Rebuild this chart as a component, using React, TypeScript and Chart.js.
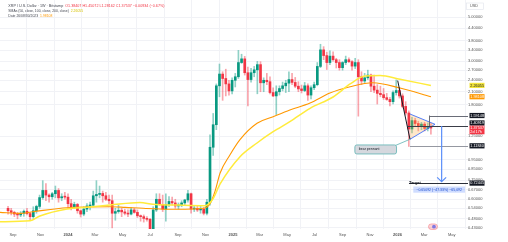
import React, { useEffect, useRef } from 'react';
import { Chart, registerables } from 'chart.js';
Chart.register(...registerables);

// ---- data (weekly XRP/USD candles, week index relative to Mon 2024-01-01) ----
const FIRST_WEEK = -19; // 2023-08-21

const OPEN = [
  0.540, 0.525, 0.515, 0.505, 0.500, 0.510, 0.522, 0.508, 0.490, 0.525,
  0.552, 0.612, 0.665, 0.630, 0.618, 0.640, 0.665, 0.610, 0.618, 0.615,
  0.570, 0.550, 0.565, 0.525, 0.505, 0.535, 0.555, 0.560, 0.625, 0.635,
  0.642, 0.625, 0.600, 0.590, 0.510, 0.520, 0.528, 0.518, 0.510, 0.505,
  0.530, 0.515, 0.495, 0.490, 0.480, 0.475, 0.425, 0.530, 0.600, 0.565,
  0.535, 0.565, 0.585, 0.575, 0.555, 0.560, 0.575, 0.595, 0.640, 0.535,
  0.540, 0.530, 0.535, 0.510, 0.580, 1.100, 1.430, 2.250, 2.580, 2.450,
  2.300, 2.120, 2.400, 2.500, 2.950, 3.080, 2.620, 2.420, 2.620, 2.710,
  2.880, 2.330, 2.400, 2.360, 2.080, 2.000, 2.100, 2.180, 2.250, 2.320,
  2.420, 2.340, 2.240, 2.170, 2.130, 2.250, 2.020, 2.200, 2.280, 2.820,
  3.420, 3.200, 2.950, 3.180, 3.050, 2.950, 2.780, 2.950, 3.050, 2.980,
  2.830, 2.950, 2.500, 2.380, 2.470, 2.550, 2.240, 2.140, 2.060, 2.030,
  1.960, 1.920, 1.870, 2.080, 2.130, 2.000, 1.770, 1.640, 1.360, 1.500,
  1.450, 1.400, 1.440, 1.370, 1.38407,
];
const HIGH = [
  0.552, 0.540, 0.522, 0.515, 0.520, 0.530, 0.540, 0.515, 0.550, 0.560,
  0.630, 0.745, 0.720, 0.640, 0.650, 0.700, 0.680, 0.640, 0.650, 0.640,
  0.600, 0.580, 0.572, 0.530, 0.550, 0.570, 0.580, 0.660, 0.745, 0.700,
  0.660, 0.650, 0.630, 0.630, 0.540, 0.560, 0.540, 0.535, 0.530, 0.545,
  0.540, 0.530, 0.500, 0.500, 0.490, 0.480, 0.550, 0.640, 0.640, 0.630,
  0.640, 0.620, 0.615, 0.600, 0.575, 0.590, 0.600, 0.665, 0.645, 0.555,
  0.555, 0.555, 0.545, 0.600, 1.270, 1.630, 2.300, 2.900, 2.650, 2.730,
  2.400, 2.470, 2.600, 3.400, 3.250, 3.170, 2.800, 2.760, 2.820, 2.990,
  2.980, 2.470, 2.600, 2.500, 2.200, 2.250, 2.250, 2.350, 2.400, 2.650,
  2.600, 2.480, 2.360, 2.270, 2.340, 2.300, 2.250, 2.350, 2.950, 3.650,
  3.550, 3.330, 3.380, 3.340, 3.100, 3.050, 2.980, 3.180, 3.120, 3.020,
  3.100, 3.050, 2.650, 2.600, 2.700, 2.580, 2.550, 2.280, 2.240, 2.180,
  2.060, 1.970, 2.120, 2.410, 2.200, 2.050, 1.870, 1.680, 1.560, 1.540,
  1.490, 1.470, 1.470, 1.460, 1.45072,
];
const LOW = [
  0.505, 0.500, 0.490, 0.478, 0.490, 0.492, 0.500, 0.470, 0.480, 0.510,
  0.540, 0.600, 0.590, 0.580, 0.600, 0.610, 0.580, 0.590, 0.600, 0.540,
  0.530, 0.540, 0.510, 0.488, 0.495, 0.520, 0.530, 0.550, 0.580, 0.610,
  0.580, 0.590, 0.570, 0.430, 0.470, 0.510, 0.490, 0.500, 0.490, 0.500,
  0.510, 0.485, 0.465, 0.460, 0.465, 0.400, 0.420, 0.520, 0.560, 0.520,
  0.465, 0.550, 0.560, 0.540, 0.535, 0.550, 0.560, 0.580, 0.510, 0.520,
  0.520, 0.510, 0.500, 0.500, 0.560, 1.000, 1.350, 1.980, 1.900, 2.000,
  2.020, 2.050, 2.220, 2.450, 2.920, 2.550, 1.780, 2.350, 2.500, 2.050,
  2.100, 2.100, 2.280, 2.050, 1.980, 1.610, 2.020, 2.120, 2.080, 2.100,
  2.280, 2.200, 2.100, 2.070, 2.100, 1.900, 1.930, 2.150, 2.250, 2.780,
  3.050, 2.720, 2.880, 3.000, 2.770, 2.700, 2.700, 2.880, 2.950, 2.700,
  2.750, 1.580, 2.280, 2.330, 2.420, 2.100, 2.080, 1.820, 1.980, 1.920,
  1.900, 1.780, 1.820, 2.020, 1.950, 1.740, 1.600, 1.110, 1.300, 1.400,
  1.330, 1.350, 1.330, 1.330, 1.28162,
];
const CLOSE = [
  0.525, 0.515, 0.505, 0.500, 0.510, 0.522, 0.508, 0.490, 0.525, 0.552,
  0.612, 0.665, 0.630, 0.618, 0.640, 0.665, 0.610, 0.618, 0.615, 0.570,
  0.550, 0.565, 0.525, 0.505, 0.535, 0.555, 0.560, 0.625, 0.635, 0.642,
  0.625, 0.600, 0.590, 0.510, 0.520, 0.528, 0.518, 0.510, 0.505, 0.530,
  0.515, 0.495, 0.490, 0.480, 0.475, 0.425, 0.530, 0.600, 0.565, 0.535,
  0.565, 0.585, 0.575, 0.555, 0.560, 0.575, 0.595, 0.640, 0.535, 0.540,
  0.530, 0.535, 0.510, 0.580, 1.100, 1.430, 2.250, 2.580, 2.450, 2.300,
  2.120, 2.400, 2.500, 2.950, 3.080, 2.620, 2.420, 2.620, 2.710, 2.880,
  2.330, 2.400, 2.360, 2.080, 2.000, 2.100, 2.180, 2.250, 2.320, 2.420,
  2.340, 2.240, 2.170, 2.130, 2.250, 2.020, 2.200, 2.280, 2.820, 3.420,
  3.200, 2.950, 3.180, 3.050, 2.950, 2.780, 2.950, 3.050, 2.980, 2.830,
  2.950, 2.500, 2.380, 2.470, 2.550, 2.240, 2.140, 2.060, 2.030, 1.960,
  1.920, 1.870, 2.080, 2.130, 2.000, 1.770, 1.640, 1.360, 1.500, 1.450,
  1.400, 1.440, 1.370, 1.38471, 1.37537,
];

// moving averages (sampled along the line, week index -> price)
const SLOW_MA_WEEKS = [-21.55, -12.0, -8.9, -0.3, 6.0, 13.3, 22.8, 26.9, 34.5, 43.4, 45.9, 48.2, 54.5, 59.9, 65.0, 70.3, 76.7, 84.0, 89.4, 94.1, 98.9, 105.2, 115.0];
const SLOW_MA = [0.462, 0.467, 0.494, 0.536, 0.547, 0.561, 0.578, 0.566, 0.561, 0.557, 0.602, 0.717, 0.985, 1.156, 1.318, 1.481, 1.731, 1.975, 2.298, 2.522, 2.537, 2.427, 2.26055];
const FAST_MA_WEEKS = [-21.55, -15.2, -11.1, -0.3, 13.3, 18.1, 23.8, 34.5, 42.8, 45.0, 46.6, 48.2, 51.3, 54.5, 59.9, 65.0, 70.3, 76.7, 83.0, 89.4, 96.6, 105.2, 115.0];
const FAST_MA = [0.515, 0.509, 0.519, 0.544, 0.550, 0.546, 0.540, 0.534, 0.540, 0.570, 0.66, 0.815, 1.005, 1.202, 1.454, 1.570, 1.697, 1.842, 2.069, 2.226, 2.333, 2.193, 1.98108];

// axes
const MONTH_TICKS = ['2023-09-01', '2023-11-01', '2024-01-01', '2024-03-01', '2024-05-01', '2024-07-01', '2024-09-01', '2024-11-01', '2025-01-01', '2025-03-01', '2025-05-01', '2025-07-01', '2025-09-01', '2025-11-01', '2026-01-01', '2026-03-01', '2026-05-01'];
const MONTH_LABELS = ['Sep', 'Nov', '2024', 'Mar', 'May', 'Jul', 'Sep', 'Nov', '2025', 'Mar', 'May', 'Jul', 'Sep', 'Nov', '2026', 'Mar', 'May'];
const PRICE_TICKS = [5.0, 4.4, 3.8, 3.4, 3.0, 2.7, 2.4, 2.1, 1.8, 1.25, 0.95, 0.85, 0.75, 0.67, 0.6, 0.54, 0.48, 0.43];

// drawings (week index, price)
const POLE = [[104.47, 2.39], [108.37, 1.207]];
const PENNANT = [[108.37, 1.62], [116.29, 1.437], [108.37, 1.207]];
const LEVEL_TOP = 1.59148, LEVEL_MID = 1.40919, LEVEL_LOW = 1.1184;
const LEVEL_TOP_FROM = 114.4, LEVEL_MID_FROM = 107.7, LEVEL_LOW_FROM = 108.37;
const TARGET = 0.72445, TARGET_FROM = 108.05, ARROW_WEEK = 118.4;
const CALLOUT = { left: 90.9, right: 104.1, top: 1.13, bottom: 1.017, text: 'bear pennant' };
const EVENT_ICON = [115.65, 0.436];

const TITLE = 'XRP / U.S. Dollar · 1W · Bitstamp';
const MA1_TITLE = 'SMAs (50, close, 100, close, 200, close)';
const MA2_TITLE = 'Date 26/08/30/2023';
const COUNTDOWN = '2d 17h';

const X_MIN = -21.55, X_MAX = 126.75, Y_MIN = 0.4244, Y_MAX = 6.113;
const FONT = '"Liberation Sans", Arial, sans-serif';
const GREEN = '#089981', RED = '#f23645';

const weeksFrom = (d: string) => (Date.parse(d) - Date.parse('2024-01-01')) / (7 * 86400000);
const font = (s: number, b = false) => `${b ? 'bold ' : ''}${s}px ${FONT}`;

const overlay = {
  id: 'overlay',
  afterDatasetsDraw(chart: any) {
    const { ctx, chartArea: ca } = chart;
    const X = (w: number) => chart.scales.x.getPixelForValue(w);
    const Y = (p: number) => chart.scales.y.getPixelForValue(p);
    ctx.save();
    ctx.beginPath();
    ctx.rect(ca.left, ca.top, ca.right - ca.left, ca.bottom - ca.top);
    ctx.clip();
    // pennant
    ctx.beginPath();
    PENNANT.forEach(([w, p], i) => (i ? ctx.lineTo(X(w), Y(p)) : ctx.moveTo(X(w), Y(p))));
    ctx.closePath();
    ctx.fillStyle = 'rgba(255,170,60,0.28)';
    ctx.fill();
    ctx.strokeStyle = '#2962ff';
    ctx.lineWidth = 0.8;
    ctx.beginPath();
    PENNANT.forEach(([w, p], i) => (i ? ctx.lineTo(X(w), Y(p)) : ctx.moveTo(X(w), Y(p))));
    ctx.stroke();
    // pole
    ctx.strokeStyle = '#131722';
    ctx.lineWidth = 1;
    ctx.beginPath();
    ctx.moveTo(X(POLE[0][0]), Y(POLE[0][1]));
    ctx.lineTo(X(POLE[1][0]), Y(POLE[1][1]));
    ctx.stroke();
    // level lines
    const hline = (p: number, from: number, color: string) => {
      ctx.strokeStyle = color;
      ctx.beginPath();
      ctx.moveTo(X(from), Math.round(Y(p)) + 0.5);
      ctx.lineTo(ca.right, Math.round(Y(p)) + 0.5);
      ctx.stroke();
    };
    ctx.lineWidth = 1;
    hline(LEVEL_TOP, LEVEL_TOP_FROM, '#6a6d78');
    hline(LEVEL_MID, LEVEL_MID_FROM, '#3a3d48');
    hline(LEVEL_LOW, LEVEL_LOW_FROM, '#9598a1');
    ctx.strokeStyle = '#6a6d78';
    ctx.beginPath();
    ctx.moveTo(Math.round(X(LEVEL_TOP_FROM)) + 0.5, Y(LEVEL_TOP));
    ctx.lineTo(Math.round(X(LEVEL_TOP_FROM)) + 0.5, Y(LEVEL_MID));
    ctx.stroke();
    hline(TARGET, TARGET_FROM, '#2a2e39');
    // arrow
    const ax = X(ARROW_WEEK), ay0 = Y(LEVEL_MID), ay1 = Y(TARGET) - 1.5;
    ctx.strokeStyle = '#5b8ff9';
    ctx.lineWidth = 1.2;
    ctx.beginPath();
    ctx.moveTo(ax, ay0);
    ctx.lineTo(ax, ay1);
    ctx.moveTo(ax - 4.5, ay1 - 4.2);
    ctx.lineTo(ax, ay1);
    ctx.lineTo(ax + 4.5, ay1 - 4.2);
    ctx.stroke();
    ctx.restore();
  },
  afterDraw(chart: any) {
    const { ctx, chartArea: ca } = chart;
    const X = (w: number) => chart.scales.x.getPixelForValue(w);
    const Y = (p: number) => chart.scales.y.getPixelForValue(p);
    ctx.save();
    ctx.textBaseline = 'middle';
    ctx.textAlign = 'left';

    // header legend
    const n = CLOSE.length - 1;
    const chg = CLOSE[n] - CLOSE[n - 1];
    const pct = (chg / CLOSE[n - 1]) * 100;
    const sgn = (v: number) => (v < 0 ? '\u2212' : '+');
    const ohlc = `O${OPEN[n].toFixed(5)} H${HIGH[n].toFixed(5)} L${LOW[n].toFixed(5)} C${CLOSE[n].toFixed(5)} ${sgn(chg)}${Math.abs(chg).toFixed(5)} (${sgn(pct)}${Math.abs(pct).toFixed(2)}%)`;
    ctx.font = font(3.7);
    const x0 = 8.3;
    ctx.fillStyle = '#434651';
    ctx.fillText(TITLE, x0, 5.7);
    ctx.fillStyle = RED;
    ctx.fillText(ohlc, x0 + ctx.measureText(TITLE).width + 2, 5.7);
    ctx.fillStyle = '#434651';
    ctx.font = font(3.4);
    ctx.fillText(MA1_TITLE, x0, 11);
    ctx.fillStyle = '#d6c200';
    ctx.fillText(SLOW_MA[SLOW_MA.length - 1].toFixed(5), x0 + ctx.measureText(MA1_TITLE).width + 2, 11);
    ctx.fillStyle = '#434651';
    ctx.fillText(MA2_TITLE, x0, 16);
    ctx.fillStyle = '#ff9800';
    ctx.fillText(FAST_MA[FAST_MA.length - 1].toFixed(5), x0 + ctx.measureText(MA2_TITLE).width + 2, 16);

    // callout
    const cl = X(CALLOUT.left), cr = X(CALLOUT.right), ct = Y(CALLOUT.top), cb = Y(CALLOUT.bottom);
    ctx.strokeStyle = '#5fb3b3';
    ctx.lineWidth = 0.8;
    ctx.beginPath();
    ctx.moveTo(cr - 1, ct + 0.5);
    ctx.lineTo(X(PENNANT[2][0]), Y(PENNANT[2][1]));
    ctx.stroke();
    ctx.beginPath();
    (ctx as any).roundRect(cl, ct, cr - cl, cb - ct, 2);
    ctx.fillStyle = '#d5d8de';
    ctx.fill();
    ctx.stroke();
    ctx.fillStyle = '#131722';
    ctx.font = font(3.5);
    ctx.fillText(CALLOUT.text, cl + 4, (ct + cb) / 2);

    // target label and measurement box
    const ty = Y(TARGET);
    ctx.font = font(4, true);
    ctx.fillStyle = '#131722';
    ctx.fillText('Target', X(TARGET_FROM), ty - 0.2);
    const last = CLOSE[n];
    const d = TARGET - last;
    const dp = (d / last) * 100;
    const ticks = Math.round(Math.abs(d) * 100000).toLocaleString('en-US');
    const mtxt = `\u2212${Math.abs(d).toFixed(5)} (\u2212${Math.abs(dp).toFixed(2)}%) \u2212${ticks}`;
    const bx0 = 413.3, bw = ca.right - 3 - bx0;
    ctx.fillStyle = 'rgba(41,98,255,0.22)';
    ctx.fillRect(bx0, ty + 3.4, bw, 6.2);
    ctx.fillStyle = '#1f4fd1';
    ctx.font = font(3.5);
    ctx.textAlign = 'center';
    ctx.fillText(mtxt, bx0 + bw / 2, ty + 6.6);
    ctx.textAlign = 'left';

    // event icon
    const ex = X(EVENT_ICON[0]), ey = Y(EVENT_ICON[1]);
    ctx.beginPath();
    (ctx as any).roundRect(ex - 4.5, ey - 2.8, 9, 5.6, 2.8);
    ctx.fillStyle = 'rgba(242,54,69,0.22)';
    ctx.fill();
    ctx.strokeStyle = 'rgba(242,54,69,0.55)';
    ctx.lineWidth = 0.6;
    ctx.stroke();
    ctx.beginPath();
    ctx.arc(ex + 1, ey, 1.9, 0, Math.PI * 2);
    ctx.fillStyle = 'rgba(90,90,230,0.75)';
    ctx.fill();

    // price axis: USD label + badges
    const R = ca.right;
    ctx.strokeStyle = '#e0e3eb';
    ctx.lineWidth = 0.6;
    ctx.strokeRect(R - 1.5, 3, 17, 6.5);
    ctx.fillStyle = '#555';
    ctx.font = font(3.8);
    ctx.fillText('USD', R + 2, 6.3);
    const badge = (yc: number, text: string, bg: string, fg: string) => {
      ctx.fillStyle = bg;
      ctx.fillRect(R + 1.5, yc - 2.6, 15, 5.2);
      ctx.fillStyle = fg;
      ctx.font = font(3.8);
      ctx.fillText(text, R + 2.3, yc + 0.2);
    };
    badge(Y(SLOW_MA[SLOW_MA.length - 1]), SLOW_MA[SLOW_MA.length - 1].toFixed(5), '#f5e63a', '#131722');
    badge(Y(FAST_MA[FAST_MA.length - 1]), FAST_MA[FAST_MA.length - 1].toFixed(5), '#ff9800', '#ffffff');
    badge(Y(LEVEL_TOP), LEVEL_TOP.toFixed(5), '#131722', '#ffffff');
    const redTop = Y(last) - 2.4;
    badge(redTop - 2.7, LEVEL_MID.toFixed(5), '#131722', '#ffffff');
    ctx.fillStyle = RED;
    ctx.fillRect(R + 1.5, redTop, 15, 8.6);
    ctx.fillStyle = '#ffffff';
    ctx.font = font(3.8);
    ctx.fillText(last.toFixed(5), R + 2.3, redTop + 2.4);
    ctx.fillText(COUNTDOWN, R + 2.3, redTop + 6.3);
    badge(Y(LEVEL_LOW), LEVEL_LOW.toFixed(5), '#131722', '#ffffff');
    badge(ty, TARGET.toFixed(5), '#131722', '#ffffff');
    ctx.restore();
  },
};

export default function App() {
  const ref = useRef<HTMLCanvasElement>(null);
  useEffect(() => {
    Chart.defaults.font.family = FONT;
    const weeks = OPEN.map((_, i) => FIRST_WEEK + i);
    const up = (i: number) => CLOSE[i] >= OPEN[i];
    const bodies = weeks.map((w, i) => ({ x: w, y: [OPEN[i], CLOSE[i]] }));
    const wicks = weeks.map((w, i) => ({ x: w, y: [LOW[i], HIGH[i]] }));
    const chart = new Chart(ref.current as HTMLCanvasElement, {
      type: 'bar',
      data: {
        datasets: [
          {
            type: 'line',
            data: SLOW_MA_WEEKS.map((w, i) => ({ x: w, y: SLOW_MA[i] })),
            borderColor: '#ffeb3b',
            borderWidth: 1.5,
            pointRadius: 0,
            cubicInterpolationMode: 'monotone',
            order: 0,
          } as any,
          {
            type: 'line',
            data: FAST_MA_WEEKS.map((w, i) => ({ x: w, y: FAST_MA[i] })),
            borderColor: '#ff9800',
            borderWidth: 1.1,
            pointRadius: 0,
            cubicInterpolationMode: 'monotone',
            order: 0,
          } as any,
          {
            type: 'bar',
            data: wicks,
            backgroundColor: (c: any) => (up(c.dataIndex) ? 'rgba(8,153,129,0.45)' : 'rgba(242,54,69,0.45)'),
            barThickness: 1,
            grouped: false,
            order: 2,
          } as any,
          {
            type: 'bar',
            data: bodies,
            backgroundColor: (c: any) => (up(c.dataIndex) ? GREEN : RED),
            barThickness: 2,
            minBarLength: 1,
            grouped: false,
            order: 1,
          } as any,
        ],
      },
      options: {
        responsive: false,
        animation: false,
        devicePixelRatio: 1,
        layout: { padding: 0 },
        events: [],
        plugins: { legend: { display: false }, tooltip: { enabled: false } },
        scales: {
          x: {
            type: 'linear',
            min: X_MIN,
            max: X_MAX,
            offset: false,
            afterBuildTicks: (s: any) => {
              s.ticks = MONTH_TICKS.map((d) => ({ value: weeksFrom(d) }));
            },
            afterFit: (s: any) => {
              s.height = 13;
              s.paddingLeft = 0;
              s.paddingRight = 0;
            },
            ticks: {
              autoSkip: false,
              maxRotation: 0,
              minRotation: 0,
              padding: 3,
              color: '#555',
              font: (c: any) => ({ size: 4, weight: /^\d{4}$/.test(MONTH_LABELS[c.index] || '') ? 'bold' : 'normal' }),
              callback: (_v: any, i: number) => MONTH_LABELS[i],
            },
            grid: { color: '#f1f2f6', drawTicks: false },
            border: { display: false },
          },
          y: {
            type: 'logarithmic',
            position: 'right',
            min: Y_MIN,
            max: Y_MAX,
            afterBuildTicks: (s: any) => {
              s.ticks = PRICE_TICKS.map((v) => ({ value: v }));
            },
            afterFit: (s: any) => {
              s.width = 40;
              s.paddingTop = 0;
              s.paddingBottom = 0;
            },
            ticks: {
              padding: 0,
              color: '#555',
              font: { size: 4 },
              callback: (v: any) => Number(v).toFixed(5),
            },
            grid: { color: '#f1f2f6', drawTicks: false },
            border: { display: false },
          },
        },
      } as any,
      plugins: [overlay],
    });
    return () => chart.destroy();
  }, []);
  return (
    <div style={{ position: 'fixed', left: 0, top: 0, width: 508, height: 242, background: '#fff' }}>
      <canvas ref={ref} width={508} height={242} style={{ display: 'block', width: 508, height: 242 }} />
    </div>
  );
}
